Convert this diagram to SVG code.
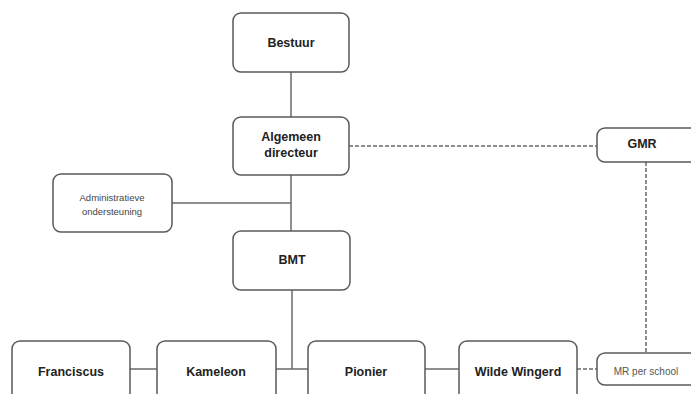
<svg xmlns="http://www.w3.org/2000/svg" width="691" height="394" viewBox="0 0 691 394">
<style>
.box{fill:#fff;stroke:#5a5a5a;stroke-width:1.5}
.t{font-family:"Liberation Sans",Arial,sans-serif;font-weight:bold;font-size:12.5px;fill:#222;text-anchor:middle}
.s{font-family:"Liberation Sans",Arial,sans-serif;font-size:9.5px;fill:#444;text-anchor:middle}
.m{font-family:"Liberation Sans",Arial,sans-serif;font-size:10px;fill:#555;text-anchor:middle}
.c{stroke:#6a6a6a;stroke-width:1.5;fill:none}
.d{stroke:#6a6a6a;stroke-width:1.5;fill:none;stroke-dasharray:4 2}
</style>
<rect width="691" height="394" fill="#fff"/>
<g id="connectors">
<line class="c" x1="291" y1="72" x2="291" y2="117"/>
<line class="c" x1="291" y1="175" x2="291" y2="231"/>
<line class="c" x1="172" y1="203" x2="291" y2="203"/>
<line class="c" x1="292" y1="290" x2="292" y2="369"/>
<line class="c" x1="130" y1="369" x2="157" y2="369"/>
<line class="c" x1="276" y1="369" x2="308" y2="369"/>
<line class="c" x1="425" y1="369" x2="459" y2="369"/>
<line class="d" x1="577" y1="369" x2="597" y2="369"/>
<line class="d" x1="349" y1="146" x2="597" y2="146"/>
<line class="d" x1="646" y1="162" x2="646" y2="353"/>
</g>
<g id="bestuur"><rect class="box" x="233" y="13" width="116" height="59" rx="8"/><text class="t" x="291" y="47">Bestuur</text></g>
<g id="algemeen-directeur"><rect class="box" x="233" y="117" width="116" height="58" rx="8"/><text class="t" x="291" y="141">Algemeen</text><text class="t" x="291" y="157">directeur</text></g>
<g id="administratieve-ondersteuning"><rect class="box" x="53" y="174" width="119" height="58" rx="8"/><text class="s" x="112" y="201">Administratieve</text><text class="s" x="112" y="215">ondersteuning</text></g>
<g id="bmt"><rect class="box" x="233" y="231" width="117" height="59" rx="8"/><text class="t" x="292" y="264">BMT</text></g>
<g id="gmr"><rect class="box" x="597" y="128" width="110" height="34" rx="8"/><text class="t" x="642" y="148">GMR</text></g>
<g id="franciscus"><rect class="box" x="12" y="341" width="118" height="60" rx="8"/><text class="t" x="71" y="376">Franciscus</text></g>
<g id="kameleon"><rect class="box" x="157" y="341" width="119" height="60" rx="8"/><text class="t" x="216" y="376">Kameleon</text></g>
<g id="pionier"><rect class="box" x="308" y="341" width="117" height="60" rx="8"/><text class="t" x="366" y="376">Pionier</text></g>
<g id="wilde-wingerd"><rect class="box" x="459" y="341" width="118" height="60" rx="8"/><text class="t" x="518" y="376">Wilde Wingerd</text></g>
<g id="mr-per-school"><rect class="box" x="597" y="353" width="110" height="32" rx="8"/><text class="m" x="646" y="375">MR per school</text></g>
</svg>
